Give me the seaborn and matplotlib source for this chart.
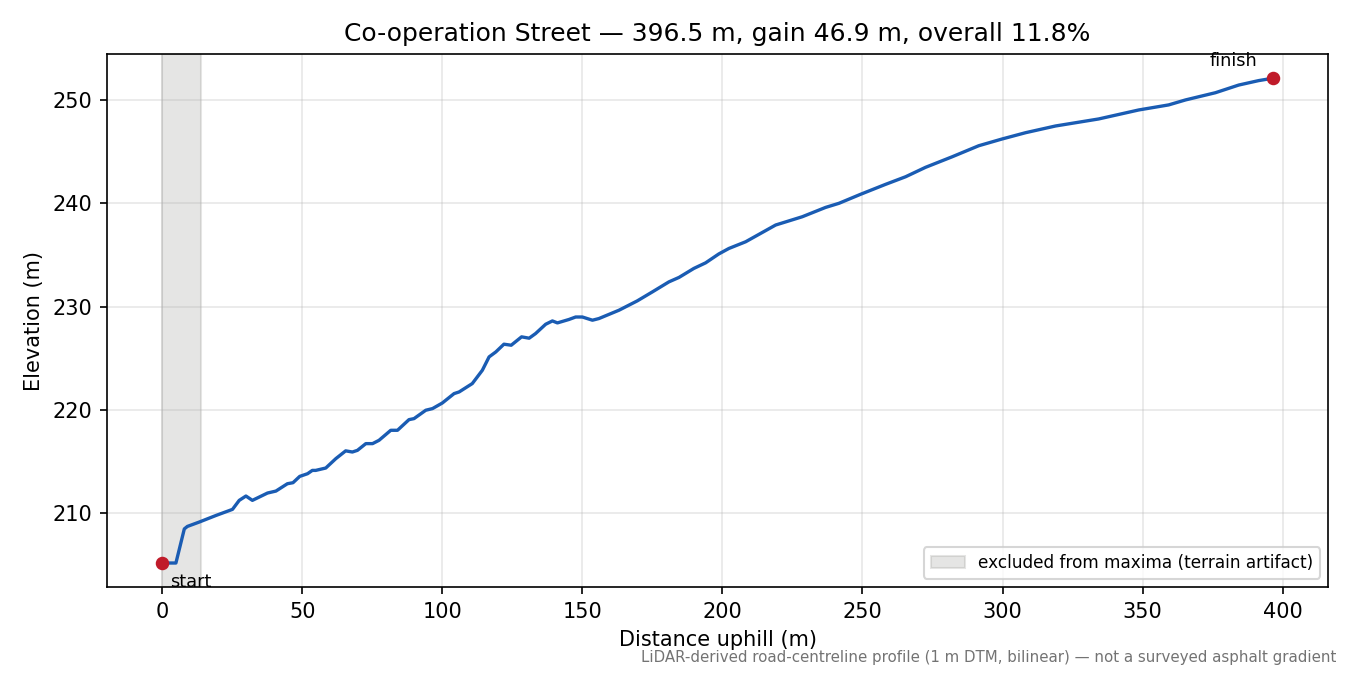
import matplotlib
matplotlib.use("Agg")
import matplotlib.pyplot as plt
import seaborn as sns
import pandas as pd

distance_m = [0.0, 4.9, 7.9, 9.0, 13.2, 19.2, 25.1, 27.5, 29.9, 32.2, 37.6, 40.6, 44.7, 46.7,
              49.1, 51.9, 53.6, 54.8, 58.4, 62.0, 65.5, 67.9, 69.7, 72.7, 75.1, 77.4, 81.6,
              84.0, 88.1, 89.9, 94.1, 96.5, 100.0, 104.2, 106.0, 110.7, 114.3, 116.7, 119.1,
              122.0, 124.6, 128.3, 131.0, 133.3, 136.9, 139.3, 141.1, 145.2, 147.6, 150.0,
              153.6, 155.9, 163.1, 169.6, 175.0, 180.9, 184.5, 189.8, 194.0, 198.7, 202.3,
              208.3, 219.0, 228.5, 236.8, 241.6, 249.3, 258.2, 265.4, 272.5, 282.0, 291.5,
              299.8, 308.2, 318.9, 334.3, 348.6, 359.3, 365.3, 376.0, 384.3, 391.4, 396.5]
elevation_m = [205.2, 205.2, 208.5, 208.74, 209.16, 209.8, 210.39, 211.26, 211.68, 211.26,
               211.97, 212.16, 212.87, 212.97, 213.58, 213.84, 214.16, 214.16, 214.39, 215.3,
               216.05, 215.94, 216.1, 216.75, 216.75, 217.07, 218.04, 218.04, 219.07, 219.17,
               219.98, 220.14, 220.68, 221.59, 221.75, 222.56, 223.85, 225.14, 225.62, 226.37,
               226.27, 227.08, 226.95, 227.4, 228.3, 228.62, 228.43, 228.76, 229.0, 229.0,
               228.69, 228.85, 229.66, 230.56, 231.43, 232.4, 232.83, 233.7, 234.24, 235.1,
               235.63, 236.28, 237.9, 238.7, 239.6, 240.0, 240.87, 241.83, 242.57, 243.48,
               244.5, 245.57, 246.22, 246.83, 247.48, 248.16, 249.03, 249.52, 250.0, 250.7,
               251.44, 251.87, 252.1]
excluded_span = [0.0, 14.0]
title = "Co-operation Street \u2014 396.5 m, gain 46.9 m, overall 11.8%"
footer = "LiDAR-derived road-centreline profile (1 m DTM, bilinear) \u2014 not a surveyed asphalt gradient"

df = pd.DataFrame({"distance": distance_m, "elevation": elevation_m})

fig, ax = plt.subplots(figsize=(9, 4.5), dpi=150)
fig.subplots_adjust(left=0.079, right=0.984, top=0.92, bottom=0.13)

ax.axvspan(excluded_span[0], excluded_span[1], color="#8c8c86", alpha=0.22,
           label="excluded from maxima (terrain artifact)")
sns.lineplot(data=df, x="distance", y="elevation", ax=ax, color="#1a5cb3", linewidth=1.6)
ends = df.iloc[[0, -1]]
ax.scatter(ends["distance"], ends["elevation"], color="#c01b2a", s=30, zorder=5)
ax.annotate("start", (distance_m[0], elevation_m[0]), xytext=(4, -9), textcoords="offset points",
            fontsize=8.5, ha="left", va="center")
ax.annotate("finish", (distance_m[-1], elevation_m[-1]), xytext=(-7.5, 8.5), textcoords="offset points",
            fontsize=8.5, ha="right", va="center")

ax.grid(True, alpha=0.3)
ax.set_xlabel("Distance uphill (m)")
ax.set_ylabel("Elevation (m)")
ax.set_title(title, fontsize=12)
ax.legend(loc="lower right", fontsize=8.1)
fig.text(0.99, 0.015, footer, ha="right", va="bottom", fontsize=7.2, color="0.45")

fig.savefig("out.png", dpi=150)
